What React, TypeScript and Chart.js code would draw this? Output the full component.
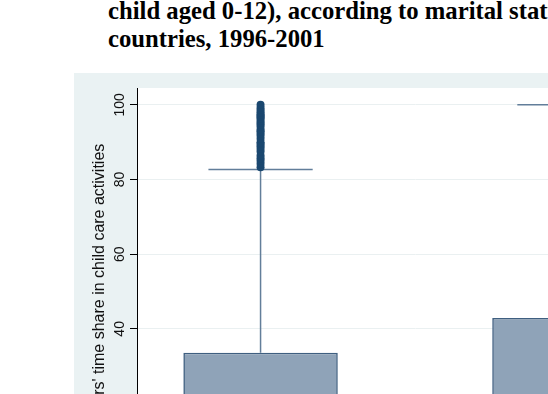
import React, { useEffect, useRef } from 'react';
import { Chart, registerables } from 'chart.js';

Chart.register(...registerables);

// ---- data ----
const titleLines = [
  'child aged 0-12), according to marital status,',
  'countries, 1996-2001',
];
const yAxisTitle = "Mothers' time share in child care activities";
const boxPositions = [1, 2];
const lowerAdjacent = [0, 0];
const q1Values = [0, 0];
const medianValues = [12, 20];
const q3Values = [33.6, 42.9];
const upperAdjacent = [82.7, 100];
const outliersGroup1 = [
  83.3, 84.2, 85, 85.7, 86.4, 87.5, 88.2, 88.9, 89.5, 90, 90.9, 91.7, 92.3, 92.9,
  93.3, 94.1, 94.7, 95.2, 95.7, 96.3, 96.7, 97.1, 97.5, 98, 98.6, 99.2, 100,
];
const yTickValues = [0, 20, 40, 60, 80, 100];

const BOX_FILL = '#8FA3B8';
const BOX_BORDER = '#3F5F80';
const WHISKER = '#627E9A';
const DOT = '#1A476F';

const backgroundPlugin = {
  id: 'stataBackground',
  beforeDraw(chart: any) {
    const { ctx, width, height, chartArea } = chart;
    ctx.save();
    ctx.fillStyle = '#EAF2F3';
    ctx.fillRect(0, 0, width, height);
    ctx.fillStyle = '#FFFFFF';
    ctx.fillRect(chartArea.left, chartArea.top, chartArea.right - chartArea.left, chartArea.bottom - chartArea.top);
    ctx.restore();
  },
};

const whiskerPlugin = {
  id: 'boxWhiskers',
  beforeDatasetsDraw(chart: any) {
    const { ctx, chartArea } = chart;
    const xs = chart.scales.x;
    const ys = chart.scales.y;
    const meta = chart.getDatasetMeta(0);
    ctx.save();
    ctx.beginPath();
    ctx.rect(chartArea.left, chartArea.top, chartArea.right - chartArea.left, chartArea.bottom - chartArea.top);
    ctx.clip();
    ctx.strokeStyle = WHISKER;
    ctx.lineWidth = 1.5;
    boxPositions.forEach((pos, i) => {
      const bar: any = meta.data[i];
      const cx = xs.getPixelForValue(pos);
      const half = (bar ? bar.width : 150) / 2 * 0.675;
      const yUp = ys.getPixelForValue(upperAdjacent[i]);
      const yQ3 = ys.getPixelForValue(q3Values[i]);
      const yLo = ys.getPixelForValue(lowerAdjacent[i]);
      const yQ1 = ys.getPixelForValue(q1Values[i]);
      ctx.beginPath();
      ctx.moveTo(cx, yQ3);
      ctx.lineTo(cx, yUp);
      ctx.moveTo(cx - half, yUp);
      ctx.lineTo(cx + half, yUp);
      ctx.moveTo(cx, yQ1);
      ctx.lineTo(cx, yLo);
      ctx.moveTo(cx - half, yLo);
      ctx.lineTo(cx + half, yLo);
      ctx.stroke();
    });
    ctx.restore();
  },
  afterDatasetsDraw(chart: any) {
    const { ctx, chartArea } = chart;
    const ys = chart.scales.y;
    const meta = chart.getDatasetMeta(0);
    ctx.save();
    ctx.beginPath();
    ctx.rect(chartArea.left, chartArea.top, chartArea.right - chartArea.left, chartArea.bottom - chartArea.top);
    ctx.clip();
    ctx.strokeStyle = BOX_BORDER;
    ctx.lineWidth = 1.6;
    meta.data.forEach((bar: any, i: number) => {
      const ym = ys.getPixelForValue(medianValues[i]);
      ctx.beginPath();
      ctx.moveTo(bar.x - bar.width / 2, ym);
      ctx.lineTo(bar.x + bar.width / 2, ym);
      ctx.stroke();
    });
    ctx.restore();
  },
};

export default function App() {
  const canvasRef = useRef<HTMLCanvasElement | null>(null);

  useEffect(() => {
    if (!canvasRef.current) return;
    const chart = new Chart(canvasRef.current, {
      type: 'bar',
      data: {
        datasets: [
          {
            type: 'bar',
            data: boxPositions.map((p, i) => ({ x: p, y: [q1Values[i], q3Values[i]] })) as any,
            backgroundColor: BOX_FILL,
            borderColor: BOX_BORDER,
            borderWidth: 1.6,
            borderSkipped: false,
            barPercentage: 0.5,
            categoryPercentage: 1,
            order: 2,
          } as any,
          {
            type: 'scatter',
            data: outliersGroup1.map((v) => ({ x: boxPositions[0], y: v })),
            backgroundColor: DOT,
            borderColor: DOT,
            pointRadius: 4,
            pointBorderWidth: 0,
            order: 1,
          } as any,
        ],
      },
      options: {
        animation: false,
        responsive: false,
        maintainAspectRatio: false,
        layout: { padding: { top: 15, right: 61, bottom: 58, left: 0 } },
        plugins: {
          legend: { display: false },
          tooltip: { enabled: false },
          title: { display: false },
        },
        scales: {
          x: {
            type: 'linear',
            display: false,
            min: 0.6,
            max: 2.4,
            offset: false,
            afterBuildTicks(scale: any) {
              scale.ticks = boxPositions.map((v) => ({ value: v }));
            },
          },
          y: {
            type: 'linear',
            min: -4.5,
            max: 104.5,
            afterFit(scale: any) {
              scale.width = 63;
            },
            afterBuildTicks(scale: any) {
              scale.ticks = yTickValues.map((v) => ({ value: v }));
            },
            grid: {
              color: '#EAF0F1',
              lineWidth: 1,
              tickColor: '#000000',
              tickLength: 7,
              drawTicks: true,
            },
            border: { display: true, color: '#000000', width: 1 },
            ticks: {
              minRotation: 90,
              maxRotation: 90,
              crossAlign: 'center',
              padding: -2,
              color: '#111111',
              font: { family: '"Liberation Sans", Arial, sans-serif', size: 14 },
            },
            title: {
              display: true,
              text: yAxisTitle,
              color: '#111111',
              font: { family: '"Liberation Sans", Arial, sans-serif', size: 16 },
              padding: { top: 16, bottom: 0 },
            },
          },
        },
      },
      plugins: [backgroundPlugin, whiskerPlugin],
    });
    return () => chart.destroy();
  }, []);

  return (
    <div
      style={{
        position: 'fixed',
        left: 0,
        top: 0,
        width: 548,
        height: 394,
        overflow: 'hidden',
        background: '#FFFFFF',
      }}
    >
      <div
        style={{
          position: 'absolute',
          left: 108,
          top: -3,
          fontFamily: '"Liberation Serif", "Times New Roman", serif',
          fontWeight: 'bold',
          fontSize: 24.7,
          lineHeight: '28px',
          whiteSpace: 'nowrap',
          color: '#000000',
        }}
      >
        {titleLines.map((t) => (
          <div key={t}>{t}</div>
        ))}
      </div>
      <canvas
        ref={canvasRef}
        width={680}
        height={480}
        style={{ position: 'absolute', left: 74, top: 73, width: 680, height: 480 }}
      />
    </div>
  );
}
